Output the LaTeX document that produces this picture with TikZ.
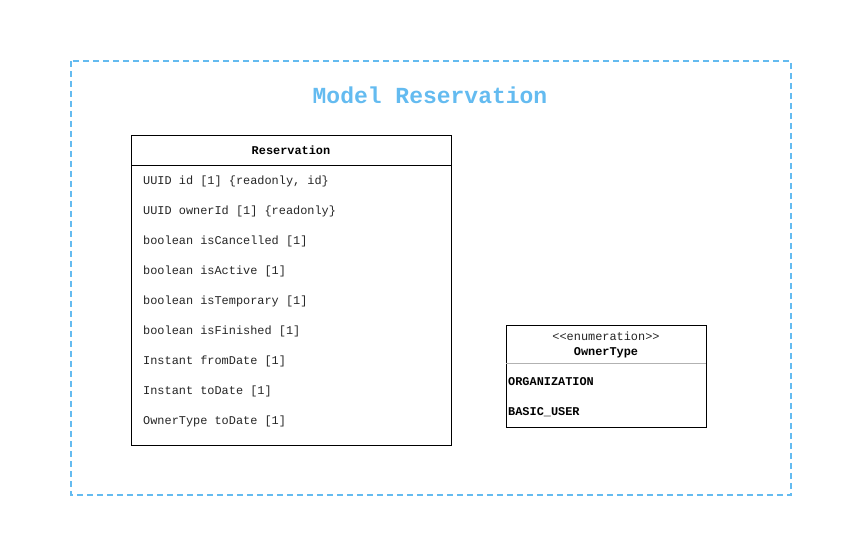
\documentclass[tikz,border=0pt]{standalone}
\usepackage{fontspec}
\setmonofont{Liberation Mono}
\usepackage{tikz}
\definecolor{frameblue}{RGB}{100,187,240}
\tikzset{
    attr/.style={anchor=west,inner sep=0pt,text=black!85,font=\ttfamily\fontsize{11.9}{13}\selectfont},
    classname/.style={inner sep=0pt,font=\ttfamily\bfseries\fontsize{11.9}{13}\selectfont},
    every label/.append style={black}
}

\begin{document}
\begin{tikzpicture}[x=1pt,y=-1pt]
                            \useasboundingbox (0,0) rectangle (860,550);
                            \draw[frameblue,line width=1.5pt,dash pattern=on 6pt off 4pt] (71,61) rectangle (791,495);
                            \node[frameblue,font=\ttfamily\bfseries\fontsize{23}{26}\selectfont] (title) at (430,95) {Model Reservation};
                            % class Reservation
                            \draw (131,135) rectangle (451,445);
                            \draw (131,165) -- (451,165);
                            \node[classname] (resname) at (291,150) {Reservation};
                            \node[attr] (a1) at (143,181) {UUID id [1] \{readonly, id\}};
                            \node[attr] (a2) at (143,211) {UUID ownerId [1] \{readonly\}};
                            \node[attr] (a3) at (143,241) {boolean isCancelled [1]};
                            \node[attr] (a4) at (143,271) {boolean isActive [1]};
                            \node[attr] (a5) at (143,301) {boolean isTemporary [1]};
                            \node[attr] (a6) at (143,331) {boolean isFinished [1]};
                            \node[attr] (a7) at (143,361) {Instant fromDate [1]};
                            \node[attr] (a8) at (143,391) {Instant toDate [1]};
                            \node[attr] (a9) at (143,421) {OwnerType toDate [1]};
                            % enum OwnerType
                            \draw (506,325) rectangle (706,427);
                            \draw[black!30] (506,363) -- (706,363);
                            \node[attr,anchor=center] (stereo) at (606,336) {<{}<enumeration>{}>};
                            \node[classname] (ownname) at (606,353) {OwnerType};
                            \node[attr,text=black,font=\ttfamily\bfseries\fontsize{11.9}{13}\selectfont] (e1) at (508,382) {ORGANIZATION};
                            \node[attr,text=black,font=\ttfamily\bfseries\fontsize{11.9}{13}\selectfont] (e2) at (508,412) {BASIC\_USER};
                        \end{tikzpicture}
\end{document}
